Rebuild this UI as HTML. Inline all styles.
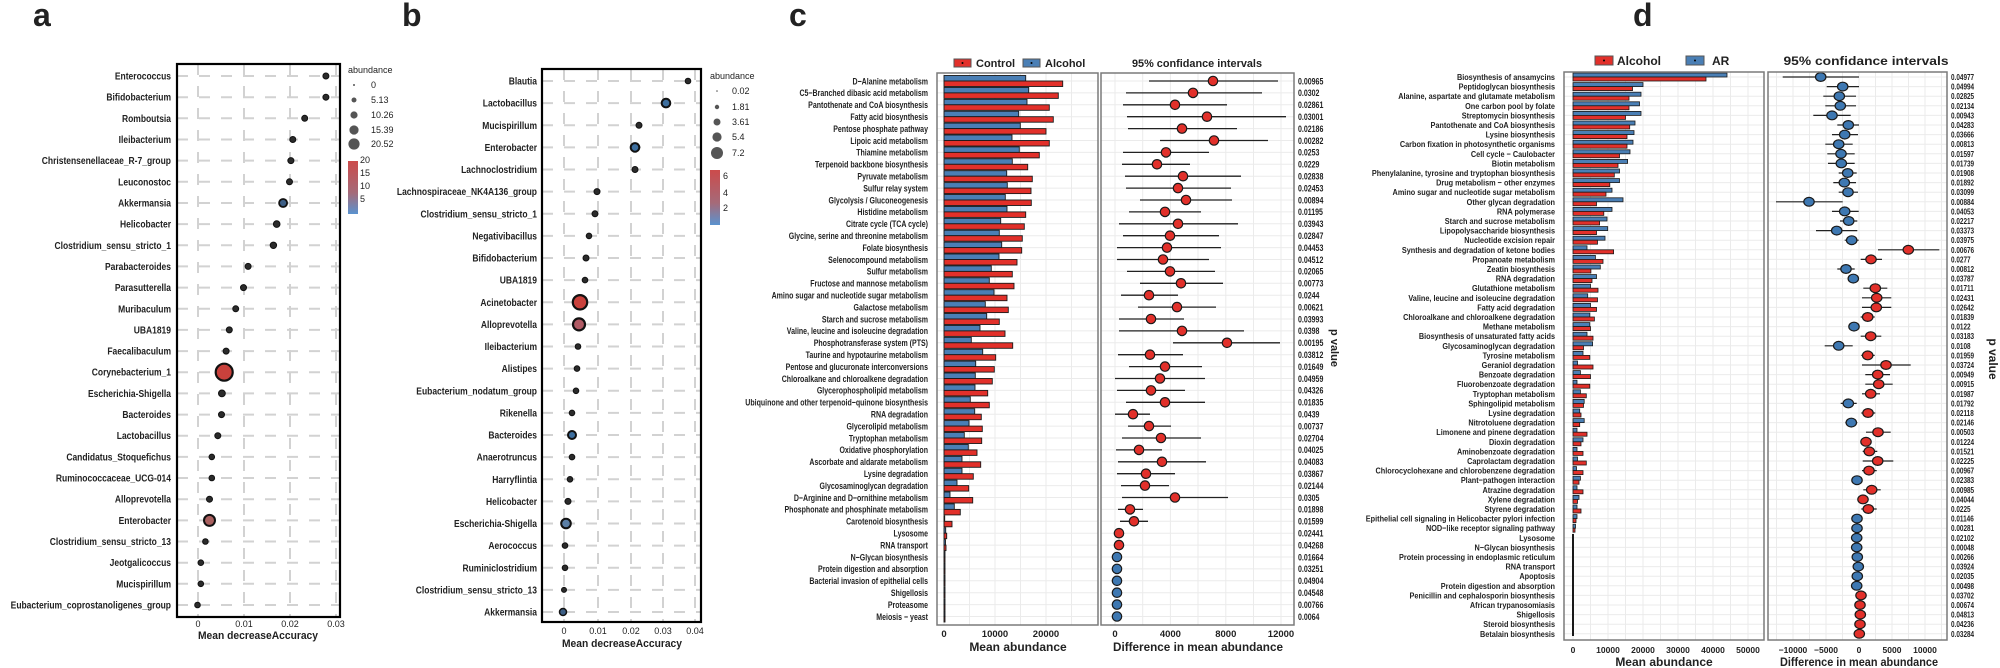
<!DOCTYPE html>
<html><head><meta charset="utf-8"><style>
html,body{margin:0;padding:0;background:#fff}
svg{display:block}
text{font-family:"Liberation Sans",Arial,sans-serif;fill:#222}
.lb{font-weight:bold}
</style></head><body>
<svg width="2000" height="668" viewBox="0 0 2000 668" xmlns="http://www.w3.org/2000/svg">
<!-- panel letters -->
<text x="33" y="26" font-size="32" font-weight="bold" fill="#000">a</text>
<text x="402" y="26" font-size="32" font-weight="bold" fill="#000">b</text>
<text x="789" y="26" font-size="32" font-weight="bold" fill="#000">c</text>
<text x="1633" y="26" font-size="32" font-weight="bold" fill="#000">d</text>

<!-- ================= PANEL A ================= -->
<g stroke="#d2d2d2" stroke-width="2" stroke-dasharray="11,11">
<line x1="177" y1="76" x2="340" y2="76"/><line x1="177" y1="97.2" x2="340" y2="97.2"/><line x1="177" y1="118.3" x2="340" y2="118.3"/><line x1="177" y1="139.5" x2="340" y2="139.5"/><line x1="177" y1="160.6" x2="340" y2="160.6"/><line x1="177" y1="181.8" x2="340" y2="181.8"/><line x1="177" y1="203" x2="340" y2="203"/><line x1="177" y1="224.1" x2="340" y2="224.1"/><line x1="177" y1="245.3" x2="340" y2="245.3"/><line x1="177" y1="266.4" x2="340" y2="266.4"/><line x1="177" y1="287.6" x2="340" y2="287.6"/><line x1="177" y1="308.8" x2="340" y2="308.8"/><line x1="177" y1="329.9" x2="340" y2="329.9"/><line x1="177" y1="351.1" x2="340" y2="351.1"/><line x1="177" y1="372.2" x2="340" y2="372.2"/><line x1="177" y1="393.4" x2="340" y2="393.4"/><line x1="177" y1="414.6" x2="340" y2="414.6"/><line x1="177" y1="435.7" x2="340" y2="435.7"/><line x1="177" y1="456.9" x2="340" y2="456.9"/><line x1="177" y1="478" x2="340" y2="478"/><line x1="177" y1="499.2" x2="340" y2="499.2"/><line x1="177" y1="520.4" x2="340" y2="520.4"/><line x1="177" y1="541.5" x2="340" y2="541.5"/><line x1="177" y1="562.7" x2="340" y2="562.7"/><line x1="177" y1="583.8" x2="340" y2="583.8"/><line x1="177" y1="605" x2="340" y2="605"/>
<line x1="198" y1="64" x2="198" y2="617"/><line x1="244" y1="64" x2="244" y2="617"/><line x1="290" y1="64" x2="290" y2="617"/><line x1="336" y1="64" x2="336" y2="617"/>
</g>
<rect x="177" y="64" width="163" height="553" fill="none" stroke="#000" stroke-width="2.2"/>
<g stroke="#111" stroke-width="1" fill="#2b2b2b">
<circle cx="325.9" cy="76" r="3"/><circle cx="325.9" cy="97.2" r="3"/><circle cx="304.7" cy="118.3" r="3"/><circle cx="292.8" cy="139.5" r="3"/><circle cx="290.9" cy="160.6" r="3"/><circle cx="289.5" cy="181.8" r="3"/>
<circle cx="283.1" cy="203" r="4" fill="#3d5f86" stroke-width="1.8"/><circle cx="276.7" cy="224.1" r="3.3"/><circle cx="273.4" cy="245.3" r="3.2"/><circle cx="248.1" cy="266.4" r="3"/><circle cx="243.5" cy="287.6" r="3"/><circle cx="235.7" cy="308.8" r="3"/><circle cx="229.3" cy="329.9" r="3"/><circle cx="226.1" cy="351.1" r="3"/>
<circle cx="224.2" cy="372.2" r="8.5" fill="#c9413c" stroke-width="2.2"/><circle cx="221.9" cy="393.4" r="3.4"/><circle cx="221.5" cy="414.6" r="3"/><circle cx="217.8" cy="435.7" r="3"/><circle cx="211.8" cy="456.9" r="2.8"/><circle cx="211.8" cy="478" r="2.8"/><circle cx="209.5" cy="499.2" r="3"/>
<circle cx="209.5" cy="520.4" r="5.5" fill="#a9605f" stroke-width="2"/><circle cx="205.4" cy="541.5" r="2.8"/><circle cx="200.8" cy="562.7" r="2.8"/><circle cx="200.8" cy="583.8" r="2.8"/><circle cx="197.5" cy="605" r="2.8"/>
</g>
<g transform="translate(171,0) scale(0.85,1)" font-size="10" font-weight="bold" text-anchor="end">
<text x="0" y="79.5">Enterococcus</text><text x="0" y="100.7">Bifidobacterium</text><text x="0" y="121.8">Romboutsia</text><text x="0" y="143">Ileibacterium</text><text x="0" y="164.1">Christensenellaceae_R-7_group</text><text x="0" y="185.3">Leuconostoc</text><text x="0" y="206.5">Akkermansia</text><text x="0" y="227.6">Helicobacter</text><text x="0" y="248.8">Clostridium_sensu_stricto_1</text><text x="0" y="269.9">Parabacteroides</text><text x="0" y="291.1">Parasutterella</text><text x="0" y="312.3">Muribaculum</text><text x="0" y="333.4">UBA1819</text><text x="0" y="354.6">Faecalibaculum</text><text x="0" y="375.7">Corynebacterium_1</text><text x="0" y="396.9">Escherichia-Shigella</text><text x="0" y="418.1">Bacteroides</text><text x="0" y="439.2">Lactobacillus</text><text x="0" y="460.4">Candidatus_Stoquefichus</text><text x="0" y="481.5">Ruminococcaceae_UCG-014</text><text x="0" y="502.7">Alloprevotella</text><text x="0" y="523.9">Enterobacter</text><text x="0" y="545">Clostridium_sensu_stricto_13</text><text x="0" y="566.2">Jeotgalicoccus</text><text x="0" y="587.3">Mucispirillum</text><text x="0" y="608.5">Eubacterium_coprostanoligenes_group</text>
</g>
<g font-size="9" text-anchor="middle" fill="#333"><text x="198" y="627">0</text><text x="244" y="627">0.01</text><text x="290" y="627">0.02</text><text x="336" y="627">0.03</text></g>
<text x="258" y="639" font-size="11" font-weight="bold" text-anchor="middle" textLength="120" lengthAdjust="spacingAndGlyphs">Mean decreaseAccuracy</text>
<!-- legend a -->
<text x="348" y="73" font-size="9" fill="#333">abundance</text>
<g fill="#555"><circle cx="354" cy="85" r="1"/><circle cx="354" cy="100" r="2.5"/><circle cx="354" cy="115" r="3.6"/><circle cx="354" cy="130" r="4.6"/><circle cx="354" cy="144" r="5.6"/></g>
<g font-size="9" fill="#333"><text x="371" y="88">0</text><text x="371" y="103">5.13</text><text x="371" y="118">10.26</text><text x="371" y="133">15.39</text><text x="371" y="147">20.52</text></g>
<defs>
<linearGradient id="gA" x1="0" y1="0" x2="0" y2="1"><stop offset="0" stop-color="#cc4b4b"/><stop offset="0.6" stop-color="#a56a79"/><stop offset="1" stop-color="#5a93cf"/></linearGradient>
</defs>
<rect x="348" y="161" width="10" height="53" fill="url(#gA)"/>
<g font-size="9" fill="#333"><text x="360" y="163">20</text><text x="360" y="176">15</text><text x="360" y="189">10</text><text x="360" y="202">5</text></g>

<!-- ================= PANEL B ================= -->
<g stroke="#d2d2d2" stroke-width="2" stroke-dasharray="11,11">
<line x1="542" y1="81" x2="701" y2="81"/><line x1="542" y1="103.1" x2="701" y2="103.1"/><line x1="542" y1="125.3" x2="701" y2="125.3"/><line x1="542" y1="147.4" x2="701" y2="147.4"/><line x1="542" y1="169.5" x2="701" y2="169.5"/><line x1="542" y1="191.6" x2="701" y2="191.6"/><line x1="542" y1="213.8" x2="701" y2="213.8"/><line x1="542" y1="235.9" x2="701" y2="235.9"/><line x1="542" y1="258" x2="701" y2="258"/><line x1="542" y1="280.1" x2="701" y2="280.1"/><line x1="542" y1="302.3" x2="701" y2="302.3"/><line x1="542" y1="324.4" x2="701" y2="324.4"/><line x1="542" y1="346.5" x2="701" y2="346.5"/><line x1="542" y1="368.6" x2="701" y2="368.6"/><line x1="542" y1="390.8" x2="701" y2="390.8"/><line x1="542" y1="412.9" x2="701" y2="412.9"/><line x1="542" y1="435" x2="701" y2="435"/><line x1="542" y1="457.1" x2="701" y2="457.1"/><line x1="542" y1="479.3" x2="701" y2="479.3"/><line x1="542" y1="501.4" x2="701" y2="501.4"/><line x1="542" y1="523.5" x2="701" y2="523.5"/><line x1="542" y1="545.6" x2="701" y2="545.6"/><line x1="542" y1="567.8" x2="701" y2="567.8"/><line x1="542" y1="589.9" x2="701" y2="589.9"/><line x1="542" y1="612" x2="701" y2="612"/>
<line x1="564" y1="69" x2="564" y2="622"/><line x1="598" y1="69" x2="598" y2="622"/><line x1="631" y1="69" x2="631" y2="622"/><line x1="663" y1="69" x2="663" y2="622"/><line x1="695" y1="69" x2="695" y2="622"/>
</g>
<rect x="542" y="69" width="159" height="553" fill="none" stroke="#000" stroke-width="2.2"/>
<g stroke="#111" stroke-width="1" fill="#2b2b2b">
<circle cx="688" cy="81" r="2.8"/><circle cx="666" cy="103.1" r="4.3" fill="#3d6f9f" stroke-width="2"/><circle cx="639" cy="125.3" r="3"/><circle cx="635" cy="147.4" r="4.3" fill="#3d6f9f" stroke-width="2"/><circle cx="635" cy="169.5" r="3"/><circle cx="597" cy="191.6" r="3"/><circle cx="595" cy="213.8" r="3"/><circle cx="589" cy="235.9" r="2.8"/><circle cx="586" cy="258" r="3"/><circle cx="585" cy="280.1" r="2.8"/>
<circle cx="580" cy="302.3" r="7.2" fill="#c9413c" stroke-width="2.2"/><circle cx="579" cy="324.4" r="6" fill="#b05a64" stroke-width="2.2"/><circle cx="578" cy="346.5" r="2.8"/><circle cx="577" cy="368.6" r="2.8"/><circle cx="576" cy="390.8" r="2.8"/><circle cx="572" cy="412.9" r="2.8"/><circle cx="572" cy="435" r="4" fill="#3d6f9f" stroke-width="2"/><circle cx="572" cy="457.1" r="2.8"/><circle cx="570" cy="479.3" r="2.8"/><circle cx="568" cy="501.4" r="3"/><circle cx="566" cy="523.5" r="4.8" fill="#5b7fa6" stroke-width="2"/><circle cx="565" cy="545.6" r="2.8"/><circle cx="565" cy="567.8" r="2.8"/><circle cx="564" cy="589.9" r="2.5"/><circle cx="563" cy="612" r="3.5" fill="#3d5f86" stroke-width="1.5"/>
</g>
<g transform="translate(537,0) scale(0.85,1)" font-size="10" font-weight="bold" text-anchor="end">
<text x="0" y="84.5">Blautia</text><text x="0" y="106.6">Lactobacillus</text><text x="0" y="128.8">Mucispirillum</text><text x="0" y="150.9">Enterobacter</text><text x="0" y="173">Lachnoclostridium</text><text x="0" y="195.1">Lachnospiraceae_NK4A136_group</text><text x="0" y="217.3">Clostridium_sensu_stricto_1</text><text x="0" y="239.4">Negativibacillus</text><text x="0" y="261.5">Bifidobacterium</text><text x="0" y="283.6">UBA1819</text><text x="0" y="305.8">Acinetobacter</text><text x="0" y="327.9">Alloprevotella</text><text x="0" y="350">Ileibacterium</text><text x="0" y="372.1">Alistipes</text><text x="0" y="394.3">Eubacterium_nodatum_group</text><text x="0" y="416.4">Rikenella</text><text x="0" y="438.5">Bacteroides</text><text x="0" y="460.6">Anaerotruncus</text><text x="0" y="482.8">Harryflintia</text><text x="0" y="504.9">Helicobacter</text><text x="0" y="527">Escherichia-Shigella</text><text x="0" y="549.1">Aerococcus</text><text x="0" y="571.3">Ruminiclostridium</text><text x="0" y="593.4">Clostridium_sensu_stricto_13</text><text x="0" y="615.5">Akkermansia</text>
</g>
<g font-size="9" text-anchor="middle" fill="#333"><text x="564" y="634">0</text><text x="598" y="634">0.01</text><text x="631" y="634">0.02</text><text x="663" y="634">0.03</text><text x="695" y="634">0.04</text></g>
<text x="622" y="647" font-size="11" font-weight="bold" text-anchor="middle" textLength="120" lengthAdjust="spacingAndGlyphs">Mean decreaseAccuracy</text>
<!-- legend b -->
<text x="710" y="79" font-size="9" fill="#333">abundance</text>
<g fill="#555"><circle cx="717" cy="91" r="0.8"/><circle cx="717" cy="107" r="2.2"/><circle cx="717" cy="122" r="3.5"/><circle cx="717" cy="137" r="4.6"/><circle cx="717" cy="153" r="6"/></g>
<g font-size="9" fill="#333"><text x="732" y="94">0.02</text><text x="732" y="110">1.81</text><text x="732" y="125">3.61</text><text x="732" y="140">5.4</text><text x="732" y="156">7.2</text></g>
<rect x="710" y="170" width="10" height="55" fill="url(#gA)"/>
<g font-size="9" fill="#333"><text x="723" y="179">6</text><text x="723" y="196">4</text><text x="723" y="211">2</text></g>

<!-- ================= PANEL C ================= -->
<!-- legend -->
<rect x="954" y="59" width="17" height="8" fill="#e2302a" stroke="#555" stroke-width="1"/><circle cx="962.5" cy="63" r="1" fill="#000"/>
<text x="976" y="67" font-size="11" font-weight="bold">Control</text>
<rect x="1023" y="59" width="17" height="8" fill="#4a7fb5" stroke="#555" stroke-width="1"/><circle cx="1031.5" cy="63" r="1" fill="#000"/>
<text x="1045" y="67" font-size="11" font-weight="bold">Alcohol</text>
<text x="1197" y="67" font-size="11" font-weight="bold" text-anchor="middle" textLength="130" lengthAdjust="spacingAndGlyphs">95% confidance intervals</text>
<!-- bar panel grid -->
<g stroke="#ebebeb" stroke-width="1">
<line x1="944" y1="73" x2="944" y2="625"/><line x1="969.5" y1="73" x2="969.5" y2="625"/><line x1="995" y1="73" x2="995" y2="625"/><line x1="1020.5" y1="73" x2="1020.5" y2="625"/><line x1="1046" y1="73" x2="1046" y2="625"/><line x1="1071.5" y1="73" x2="1071.5" y2="625"/>
<line x1="1115" y1="73" x2="1115" y2="625"/><line x1="1142.7" y1="73" x2="1142.7" y2="625"/><line x1="1170.4" y1="73" x2="1170.4" y2="625"/><line x1="1198" y1="73" x2="1198" y2="625"/><line x1="1225.8" y1="73" x2="1225.8" y2="625"/><line x1="1253.5" y1="73" x2="1253.5" y2="625"/><line x1="1281" y1="73" x2="1281" y2="625"/>
</g>
<g id="crows" stroke="#ebebeb" stroke-width="1">
<path d="M937 81H1098M937 92.9H1098M937 104.8H1098M937 116.7H1098M937 128.6H1098M937 140.5H1098M937 152.4H1098M937 164.3H1098M937 176.2H1098M937 188.1H1098M937 200H1098M937 211.9H1098M937 223.8H1098M937 235.7H1098M937 247.6H1098M937 259.5H1098M937 271.4H1098M937 283.3H1098M937 295.2H1098M937 307.1H1098M937 319H1098M937 330.9H1098M937 342.8H1098M937 354.7H1098M937 366.6H1098M937 378.5H1098M937 390.4H1098M937 402.3H1098M937 414.2H1098M937 426.1H1098M937 438H1098M937 449.9H1098M937 461.8H1098M937 473.7H1098M937 485.6H1098M937 497.5H1098M937 509.4H1098M937 521.3H1098M937 533.2H1098M937 545.1H1098M937 557H1098M937 568.9H1098M937 580.8H1098M937 592.7H1098M937 604.6H1098M937 616.5H1098"/>
<path transform="translate(164,0)" d="M937 81H1130M937 92.9H1130M937 104.8H1130M937 116.7H1130M937 128.6H1130M937 140.5H1130M937 152.4H1130M937 164.3H1130M937 176.2H1130M937 188.1H1130M937 200H1130M937 211.9H1130M937 223.8H1130M937 235.7H1130M937 247.6H1130M937 259.5H1130M937 271.4H1130M937 283.3H1130M937 295.2H1130M937 307.1H1130M937 319H1130M937 330.9H1130M937 342.8H1130M937 354.7H1130M937 366.6H1130M937 378.5H1130M937 390.4H1130M937 402.3H1130M937 414.2H1130M937 426.1H1130M937 438H1130M937 449.9H1130M937 461.8H1130M937 473.7H1130M937 485.6H1130M937 497.5H1130M937 509.4H1130M937 521.3H1130M937 533.2H1130M937 545.1H1130M937 557H1130M937 568.9H1130M937 580.8H1130M937 592.7H1130M937 604.6H1130M937 616.5H1130"/>
</g>
<!-- bars c: blue top, red bottom -->
<g stroke="#1a1a1a" stroke-width="0.9">
<g fill="#4a7fb5">
<rect x="944" y="75.5" width="81.7" height="5.5"/><rect x="944" y="87.4" width="84.7" height="5.5"/><rect x="944" y="99.3" width="83" height="5.5"/><rect x="944" y="111.2" width="74.7" height="5.5"/><rect x="944" y="123.1" width="76.3" height="5.5"/><rect x="944" y="135" width="68" height="5.5"/><rect x="944" y="146.9" width="75.3" height="5.5"/><rect x="944" y="158.8" width="68.3" height="5.5"/><rect x="944" y="170.7" width="62.7" height="5.5"/><rect x="944" y="182.6" width="63.3" height="5.5"/><rect x="944" y="194.5" width="61.3" height="5.5"/><rect x="944" y="206.4" width="63" height="5.5"/><rect x="944" y="218.3" width="56.7" height="5.5"/><rect x="944" y="230.2" width="55.3" height="5.5"/><rect x="944" y="242.1" width="57.7" height="5.5"/><rect x="944" y="254" width="55" height="5.5"/><rect x="944" y="265.9" width="47.3" height="5.5"/><rect x="944" y="277.8" width="45.3" height="5.5"/><rect x="944" y="289.7" width="50" height="5.5"/><rect x="944" y="301.6" width="41.3" height="5.5"/><rect x="944" y="313.5" width="42.7" height="5.5"/><rect x="944" y="325.4" width="36" height="5.5"/><rect x="944" y="337.3" width="27.3" height="5.5"/><rect x="944" y="349.2" width="38.7" height="5.5"/><rect x="944" y="361.1" width="31.7" height="5.5"/><rect x="944" y="373" width="31.3" height="5.5"/><rect x="944" y="384.9" width="31" height="5.5"/><rect x="944" y="396.8" width="26.3" height="5.5"/><rect x="944" y="408.7" width="30.7" height="5.5"/><rect x="944" y="420.6" width="25" height="5.5"/><rect x="944" y="432.5" width="20.3" height="5.5"/><rect x="944" y="444.4" width="24.3" height="5.5"/><rect x="944" y="456.3" width="18" height="5.5"/><rect x="944" y="468.2" width="18" height="5.5"/><rect x="944" y="480.1" width="13" height="5.5"/><rect x="944" y="492" width="6" height="5.5"/><rect x="944" y="503.9" width="10.3" height="5.5"/><rect x="944" y="515.8" width="0.7" height="5.5"/><rect x="944" y="527.7" width="1.7" height="5.5"/><rect x="944" y="539.6" width="1.5" height="5.5"/><rect x="944" y="551.5" width="1" height="5.5"/><rect x="944" y="563.4" width="1" height="5.5"/><rect x="944" y="575.3" width="1" height="5.5"/><rect x="944" y="587.2" width="1" height="5.5"/><rect x="944" y="599.1" width="1" height="5.5"/><rect x="944" y="611" width="1" height="5.5"/>
</g>
<g fill="#e2302a">
<rect x="944" y="81" width="118.7" height="5.5"/><rect x="944" y="92.9" width="114.3" height="5.5"/><rect x="944" y="104.8" width="105.3" height="5.5"/><rect x="944" y="116.7" width="109.3" height="5.5"/><rect x="944" y="128.6" width="102" height="5.5"/><rect x="944" y="140.5" width="105.3" height="5.5"/><rect x="944" y="152.4" width="95.3" height="5.5"/><rect x="944" y="164.3" width="83.7" height="5.5"/><rect x="944" y="176.2" width="88.3" height="5.5"/><rect x="944" y="188.1" width="87" height="5.5"/><rect x="944" y="200" width="87.3" height="5.5"/><rect x="944" y="211.9" width="81.7" height="5.5"/><rect x="944" y="223.8" width="80.3" height="5.5"/><rect x="944" y="235.7" width="78.3" height="5.5"/><rect x="944" y="247.6" width="77.7" height="5.5"/><rect x="944" y="259.5" width="73" height="5.5"/><rect x="944" y="271.4" width="68.3" height="5.5"/><rect x="944" y="283.3" width="70" height="5.5"/><rect x="944" y="295.2" width="63" height="5.5"/><rect x="944" y="307.1" width="64.3" height="5.5"/><rect x="944" y="319" width="55.3" height="5.5"/><rect x="944" y="330.9" width="61" height="5.5"/><rect x="944" y="342.8" width="68.7" height="5.5"/><rect x="944" y="354.7" width="51.7" height="5.5"/><rect x="944" y="366.6" width="50.3" height="5.5"/><rect x="944" y="378.5" width="48.3" height="5.5"/><rect x="944" y="390.4" width="43.7" height="5.5"/><rect x="944" y="402.3" width="45.3" height="5.5"/><rect x="944" y="414.2" width="37.3" height="5.5"/><rect x="944" y="426.1" width="38.3" height="5.5"/><rect x="944" y="438" width="37.7" height="5.5"/><rect x="944" y="449.9" width="33" height="5.5"/><rect x="944" y="461.8" width="36.7" height="5.5"/><rect x="944" y="473.7" width="29.3" height="5.5"/><rect x="944" y="485.6" width="24.7" height="5.5"/><rect x="944" y="497.5" width="28.7" height="5.5"/><rect x="944" y="509.4" width="16.3" height="5.5"/><rect x="944" y="521.3" width="8" height="5.5"/><rect x="944" y="533.2" width="2.7" height="5.5"/><rect x="944" y="545.1" width="2" height="5.5"/><rect x="944" y="557" width="1" height="5.5"/><rect x="944" y="568.9" width="1" height="5.5"/><rect x="944" y="580.8" width="1" height="5.5"/><rect x="944" y="592.7" width="1" height="5.5"/><rect x="944" y="604.6" width="1" height="5.5"/><rect x="944" y="616.5" width="1" height="5.5"/>
</g>
</g>
<rect x="937" y="73" width="161" height="552" fill="none" stroke="#7a7a7a" stroke-width="1.5"/>
<!-- CI c -->
<g stroke="#222" stroke-width="1.3">
<path d="M1149 81H1278M1126 92.9H1262M1123 104.8H1227M1127 116.7H1286M1128 128.6H1237M1160 140.5H1268M1123 152.4H1209M1122 164.3H1190M1125 176.2H1241M1126 188.1H1231M1140 200H1232M1129 211.9H1201M1119 223.8H1238M1123 235.7H1219M1117 247.6H1221M1117 259.5H1209M1127 271.4H1215M1140 283.3H1223M1121 295.2H1178M1138 307.1H1216M1119 319H1184M1119 330.9H1244M1173 342.8H1280M1118 354.7H1183M1129 366.6H1202M1115 378.5H1205M1117 390.4H1185M1126 402.3H1205M1115 414.2H1150M1128 426.1H1171M1122 438H1201M1116 449.9H1162M1118 461.8H1206M1117 473.7H1175M1121 485.6H1169M1122 497.5H1228M1118 509.4H1143M1120 521.3H1148M1114 533.2H1124M1114 545.1H1124"/>
</g>
<g stroke="#1a1a1a" stroke-width="1.2" fill="#e2302a">
<circle cx="1213" cy="81" r="4.7"/><circle cx="1193" cy="92.9" r="4.7"/><circle cx="1175" cy="104.8" r="4.7"/><circle cx="1207" cy="116.7" r="4.7"/><circle cx="1182" cy="128.6" r="4.7"/><circle cx="1214" cy="140.5" r="4.7"/><circle cx="1166" cy="152.4" r="4.7"/><circle cx="1157" cy="164.3" r="4.7"/><circle cx="1183" cy="176.2" r="4.7"/><circle cx="1178" cy="188.1" r="4.7"/><circle cx="1186" cy="200" r="4.7"/><circle cx="1165" cy="211.9" r="4.7"/><circle cx="1178" cy="223.8" r="4.7"/><circle cx="1170" cy="235.7" r="4.7"/><circle cx="1167" cy="247.6" r="4.7"/><circle cx="1163" cy="259.5" r="4.7"/><circle cx="1170" cy="271.4" r="4.7"/><circle cx="1181" cy="283.3" r="4.7"/><circle cx="1149" cy="295.2" r="4.7"/><circle cx="1177" cy="307.1" r="4.7"/><circle cx="1151" cy="319" r="4.7"/><circle cx="1182" cy="330.9" r="4.7"/><circle cx="1227" cy="342.8" r="4.7"/><circle cx="1150" cy="354.7" r="4.7"/><circle cx="1165" cy="366.6" r="4.7"/><circle cx="1160" cy="378.5" r="4.7"/><circle cx="1151" cy="390.4" r="4.7"/><circle cx="1165" cy="402.3" r="4.7"/><circle cx="1133" cy="414.2" r="4.7"/><circle cx="1149" cy="426.1" r="4.7"/><circle cx="1161" cy="438" r="4.7"/><circle cx="1139" cy="449.9" r="4.7"/><circle cx="1162" cy="461.8" r="4.7"/><circle cx="1146" cy="473.7" r="4.7"/><circle cx="1145" cy="485.6" r="4.7"/><circle cx="1175" cy="497.5" r="4.7"/><circle cx="1130" cy="509.4" r="4.7"/><circle cx="1134" cy="521.3" r="4.7"/><circle cx="1119" cy="533.2" r="4.7"/><circle cx="1119" cy="545.1" r="4.7"/>
</g>
<g stroke="#1a1a1a" stroke-width="1.2" fill="#3e78b2">
<circle cx="1117" cy="557" r="4.7"/><circle cx="1117" cy="568.9" r="4.7"/><circle cx="1117" cy="580.8" r="4.7"/><circle cx="1117" cy="592.7" r="4.7"/><circle cx="1117" cy="604.6" r="4.7"/><circle cx="1117" cy="616.5" r="4.7"/>
</g>
<rect x="1101" y="73" width="193" height="552" fill="none" stroke="#7a7a7a" stroke-width="1.5"/>
<!-- labels c -->
<g transform="translate(928,0) scale(0.74,1)" font-size="9.5" font-weight="bold" text-anchor="end">
<text x="0" y="84.3">D−Alanine metabolism</text><text x="0" y="96.2">C5−Branched dibasic acid metabolism</text><text x="0" y="108.1">Pantothenate and CoA biosynthesis</text><text x="0" y="120">Fatty acid biosynthesis</text><text x="0" y="131.9">Pentose phosphate pathway</text><text x="0" y="143.8">Lipoic acid metabolism</text><text x="0" y="155.7">Thiamine metabolism</text><text x="0" y="167.6">Terpenoid backbone biosynthesis</text><text x="0" y="179.5">Pyruvate metabolism</text><text x="0" y="191.4">Sulfur relay system</text><text x="0" y="203.3">Glycolysis / Gluconeogenesis</text><text x="0" y="215.2">Histidine metabolism</text><text x="0" y="227.1">Citrate cycle (TCA cycle)</text><text x="0" y="239">Glycine, serine and threonine metabolism</text><text x="0" y="250.9">Folate biosynthesis</text><text x="0" y="262.8">Selenocompound metabolism</text><text x="0" y="274.7">Sulfur metabolism</text><text x="0" y="286.6">Fructose and mannose metabolism</text><text x="0" y="298.5">Amino sugar and nucleotide sugar metabolism</text><text x="0" y="310.4">Galactose metabolism</text><text x="0" y="322.3">Starch and sucrose metabolism</text><text x="0" y="334.2">Valine, leucine and isoleucine degradation</text><text x="0" y="346.1">Phosphotransferase system (PTS)</text><text x="0" y="358">Taurine and hypotaurine metabolism</text><text x="0" y="369.9">Pentose and glucuronate interconversions</text><text x="0" y="381.8">Chloroalkane and chloroalkene degradation</text><text x="0" y="393.7">Glycerophospholipid metabolism</text><text x="0" y="405.6">Ubiquinone and other terpenoid−quinone biosynthesis</text><text x="0" y="417.5">RNA degradation</text><text x="0" y="429.4">Glycerolipid metabolism</text><text x="0" y="441.3">Tryptophan metabolism</text><text x="0" y="453.2">Oxidative phosphorylation</text><text x="0" y="465.1">Ascorbate and aldarate metabolism</text><text x="0" y="477">Lysine degradation</text><text x="0" y="488.9">Glycosaminoglycan degradation</text><text x="0" y="500.8">D−Arginine and D−ornithine metabolism</text><text x="0" y="512.7">Phosphonate and phosphinate metabolism</text><text x="0" y="524.6">Carotenoid biosynthesis</text><text x="0" y="536.5">Lysosome</text><text x="0" y="548.4">RNA transport</text><text x="0" y="560.3">N−Glycan biosynthesis</text><text x="0" y="572.2">Protein digestion and absorption</text><text x="0" y="584.1">Bacterial invasion of epithelial cells</text><text x="0" y="596">Shigellosis</text><text x="0" y="607.9">Proteasome</text><text x="0" y="619.8">Meiosis − yeast</text>
</g>
<!-- p values c -->
<g transform="translate(1298,0) scale(0.78,1)" font-size="9" font-weight="bold">
<text x="0" y="84.3">0.00965</text><text x="0" y="96.2">0.0302</text><text x="0" y="108.1">0.02861</text><text x="0" y="120">0.03001</text><text x="0" y="131.9">0.02186</text><text x="0" y="143.8">0.00282</text><text x="0" y="155.7">0.0253</text><text x="0" y="167.6">0.0229</text><text x="0" y="179.5">0.02838</text><text x="0" y="191.4">0.02453</text><text x="0" y="203.3">0.00894</text><text x="0" y="215.2">0.01195</text><text x="0" y="227.1">0.03943</text><text x="0" y="239">0.02847</text><text x="0" y="250.9">0.04453</text><text x="0" y="262.8">0.04512</text><text x="0" y="274.7">0.02065</text><text x="0" y="286.6">0.00773</text><text x="0" y="298.5">0.0244</text><text x="0" y="310.4">0.00621</text><text x="0" y="322.3">0.03993</text><text x="0" y="334.2">0.0398</text><text x="0" y="346.1">0.00195</text><text x="0" y="358">0.03812</text><text x="0" y="369.9">0.01649</text><text x="0" y="381.8">0.04959</text><text x="0" y="393.7">0.04326</text><text x="0" y="405.6">0.01835</text><text x="0" y="417.5">0.0439</text><text x="0" y="429.4">0.00737</text><text x="0" y="441.3">0.02704</text><text x="0" y="453.2">0.04025</text><text x="0" y="465.1">0.04083</text><text x="0" y="477">0.03867</text><text x="0" y="488.9">0.02144</text><text x="0" y="500.8">0.0305</text><text x="0" y="512.7">0.01898</text><text x="0" y="524.6">0.01599</text><text x="0" y="536.5">0.02441</text><text x="0" y="548.4">0.04268</text><text x="0" y="560.3">0.01664</text><text x="0" y="572.2">0.03251</text><text x="0" y="584.1">0.04904</text><text x="0" y="596">0.04548</text><text x="0" y="607.9">0.00766</text><text x="0" y="619.8">0.0064</text>
</g>
<text transform="translate(1331,348) rotate(90)" font-size="11" font-weight="bold" text-anchor="middle">p value</text>
<g font-size="9.5" font-weight="bold" text-anchor="middle"><text x="944" y="637">0</text><text x="995" y="637">10000</text><text x="1046" y="637">20000</text>
<text x="1115" y="637">0</text><text x="1170.4" y="637">4000</text><text x="1225.8" y="637">8000</text><text x="1281" y="637">12000</text></g>
<text x="1018" y="651" font-size="12" font-weight="bold" text-anchor="middle">Mean abundance</text>
<text x="1198" y="651" font-size="12" font-weight="bold" text-anchor="middle" textLength="170" lengthAdjust="spacingAndGlyphs">Difference in mean abundance</text>

<!-- ================= PANEL D ================= -->
<rect x="1595" y="56" width="18" height="9" fill="#e2302a" stroke="#555" stroke-width="1"/><circle cx="1604" cy="60.5" r="1" fill="#000"/>
<text x="1617" y="65" font-size="12" font-weight="bold">Alcohol</text>
<rect x="1686" y="56" width="18" height="9" fill="#4a7fb5" stroke="#555" stroke-width="1"/><circle cx="1695" cy="60.5" r="1" fill="#000"/>
<text x="1712" y="65" font-size="12" font-weight="bold">AR</text>
<text x="1866" y="65" font-size="12" font-weight="bold" text-anchor="middle" textLength="165" lengthAdjust="spacingAndGlyphs">95% confidance intervals</text>
<g stroke="#ebebeb" stroke-width="1">
<path d="M1573 72V640M1590.5 72V640M1608 72V640M1625.5 72V640M1643 72V640M1660.5 72V640M1678 72V640M1695.5 72V640M1713 72V640M1730.5 72V640M1748 72V640"/>
<path d="M1776.5 72V640M1793 72V640M1809.5 72V640M1826 72V640M1842.5 72V640M1859 72V640M1875.5 72V640M1892 72V640M1908.5 72V640M1925 72V640M1941.5 72V640"/>
<path id="drow" d="M0 77h1M0 86.6h1M0 96.2h1M0 105.8h1M0 115.4h1M0 125h1M0 134.6h1M0 144.2h1M0 153.8h1M0 163.4h1M0 173h1M0 182.6h1M0 192.2h1M0 201.8h1M0 211.4h1M0 221h1M0 230.6h1M0 240.2h1M0 249.8h1M0 259.4h1M0 269h1M0 278.6h1M0 288.2h1M0 297.8h1M0 307.4h1M0 317h1M0 326.6h1M0 336.2h1M0 345.8h1M0 355.4h1M0 365h1M0 374.6h1M0 384.2h1M0 393.8h1M0 403.4h1M0 413h1M0 422.6h1M0 432.2h1M0 441.8h1M0 451.4h1M0 461h1M0 470.6h1M0 480.2h1M0 489.8h1M0 499.4h1M0 509h1M0 518.6h1M0 528.2h1M0 537.8h1M0 547.4h1M0 557h1M0 566.6h1M0 576.2h1M0 585.8h1M0 595.4h1M0 605h1M0 614.6h1M0 624.2h1M0 633.8h1" transform="translate(1564,0) scale(200,1)" stroke-width="1" vector-effect="non-scaling-stroke"/>
<path d="M0 77h1M0 86.6h1M0 96.2h1M0 105.8h1M0 115.4h1M0 125h1M0 134.6h1M0 144.2h1M0 153.8h1M0 163.4h1M0 173h1M0 182.6h1M0 192.2h1M0 201.8h1M0 211.4h1M0 221h1M0 230.6h1M0 240.2h1M0 249.8h1M0 259.4h1M0 269h1M0 278.6h1M0 288.2h1M0 297.8h1M0 307.4h1M0 317h1M0 326.6h1M0 336.2h1M0 345.8h1M0 355.4h1M0 365h1M0 374.6h1M0 384.2h1M0 393.8h1M0 403.4h1M0 413h1M0 422.6h1M0 432.2h1M0 441.8h1M0 451.4h1M0 461h1M0 470.6h1M0 480.2h1M0 489.8h1M0 499.4h1M0 509h1M0 518.6h1M0 528.2h1M0 537.8h1M0 547.4h1M0 557h1M0 566.6h1M0 576.2h1M0 585.8h1M0 595.4h1M0 605h1M0 614.6h1M0 624.2h1M0 633.8h1" transform="translate(1768,0) scale(179,1)" vector-effect="non-scaling-stroke"/>
</g>
<!-- d bars -->
<g stroke="#1a1a1a" stroke-width="0.8">
<g fill="#4a7fb5">
<rect x="1573" y="73" width="154" height="4"/><rect x="1573" y="82.6" width="70" height="4"/><rect x="1573" y="92.2" width="68" height="4"/><rect x="1573" y="101.8" width="66.5" height="4"/><rect x="1573" y="111.4" width="68" height="4"/><rect x="1573" y="121" width="62" height="4"/><rect x="1573" y="130.6" width="61" height="4"/><rect x="1573" y="140.2" width="60" height="4"/><rect x="1573" y="149.8" width="57" height="4"/><rect x="1573" y="159.4" width="54.6" height="4"/><rect x="1573" y="169" width="46.5" height="4"/><rect x="1573" y="178.6" width="46.5" height="4"/><rect x="1573" y="188.2" width="39" height="4"/><rect x="1573" y="197.8" width="50" height="4"/><rect x="1573" y="207.4" width="39" height="4"/><rect x="1573" y="217" width="34" height="4"/><rect x="1573" y="226.6" width="34.7" height="4"/><rect x="1573" y="236.2" width="32" height="4"/><rect x="1573" y="245.8" width="14" height="4"/><rect x="1573" y="255.4" width="22.4" height="4"/><rect x="1573" y="265" width="27.3" height="4"/><rect x="1573" y="274.6" width="23.5" height="4"/><rect x="1573" y="284.2" width="17.5" height="4"/><rect x="1573" y="293.8" width="14.7" height="4"/><rect x="1573" y="303.4" width="17.5" height="4"/><rect x="1573" y="313" width="16.8" height="4"/><rect x="1573" y="322.6" width="16.8" height="4"/><rect x="1573" y="332.2" width="14" height="4"/><rect x="1573" y="341.8" width="19.6" height="4"/><rect x="1573" y="351.4" width="10" height="4"/><rect x="1573" y="361" width="4.5" height="4"/><rect x="1573" y="370.6" width="7.4" height="4"/><rect x="1573" y="380.2" width="4" height="4"/><rect x="1573" y="389.8" width="7.4" height="4"/><rect x="1573" y="399.4" width="11.2" height="4"/><rect x="1573" y="409" width="6.7" height="4"/><rect x="1573" y="418.6" width="11.2" height="4"/><rect x="1573" y="428.2" width="4" height="4"/><rect x="1573" y="437.8" width="10" height="4"/><rect x="1573" y="447.4" width="4" height="4"/><rect x="1573" y="457" width="4.5" height="4"/><rect x="1573" y="466.6" width="3.5" height="4"/><rect x="1573" y="476.2" width="7.4" height="4"/><rect x="1573" y="485.8" width="4" height="4"/><rect x="1573" y="495.4" width="6" height="4"/><rect x="1573" y="505" width="4" height="4"/><rect x="1573" y="514.6" width="4" height="4"/><rect x="1573" y="524.2" width="2.5" height="4"/>
</g>
<g fill="#e2302a">
<rect x="1573" y="77" width="133" height="4"/><rect x="1573" y="86.6" width="59.5" height="4"/><rect x="1573" y="96.2" width="56" height="4"/><rect x="1573" y="105.8" width="56" height="4"/><rect x="1573" y="115.4" width="52.5" height="4"/><rect x="1573" y="125" width="56.7" height="4"/><rect x="1573" y="134.6" width="54" height="4"/><rect x="1573" y="144.2" width="54" height="4"/><rect x="1573" y="153.8" width="46.5" height="4"/><rect x="1573" y="163.4" width="45" height="4"/><rect x="1573" y="173" width="41.3" height="4"/><rect x="1573" y="182.6" width="36.8" height="4"/><rect x="1573" y="192.2" width="33" height="4"/><rect x="1573" y="201.8" width="23.5" height="4"/><rect x="1573" y="211.4" width="30.8" height="4"/><rect x="1573" y="221" width="26.6" height="4"/><rect x="1573" y="230.6" width="23.5" height="4"/><rect x="1573" y="240.2" width="24.5" height="4"/><rect x="1573" y="249.8" width="40.6" height="4"/><rect x="1573" y="259.4" width="30" height="4"/><rect x="1573" y="269" width="17.9" height="4"/><rect x="1573" y="278.6" width="19" height="4"/><rect x="1573" y="288.2" width="25" height="4"/><rect x="1573" y="297.8" width="24.5" height="4"/><rect x="1573" y="307.4" width="23.5" height="4"/><rect x="1573" y="317" width="21.4" height="4"/><rect x="1573" y="326.6" width="17.5" height="4"/><rect x="1573" y="336.2" width="20" height="4"/><rect x="1573" y="345.8" width="10.5" height="4"/><rect x="1573" y="355.4" width="16.8" height="4"/><rect x="1573" y="365" width="20" height="4"/><rect x="1573" y="374.6" width="17.5" height="4"/><rect x="1573" y="384.2" width="16.8" height="4"/><rect x="1573" y="393.8" width="13.3" height="4"/><rect x="1573" y="403.4" width="10.5" height="4"/><rect x="1573" y="413" width="8" height="4"/><rect x="1573" y="422.6" width="6.7" height="4"/><rect x="1573" y="432.2" width="14" height="4"/><rect x="1573" y="441.8" width="8" height="4"/><rect x="1573" y="451.4" width="10" height="4"/><rect x="1573" y="461" width="13.3" height="4"/><rect x="1573" y="470.6" width="10" height="4"/><rect x="1573" y="480.2" width="6" height="4"/><rect x="1573" y="489.8" width="10" height="4"/><rect x="1573" y="499.4" width="4.5" height="4"/><rect x="1573" y="509" width="8" height="4"/><rect x="1573" y="518.6" width="3" height="4"/><rect x="1573" y="528.2" width="2" height="4"/>
</g>
<path d="M1573 534V636" stroke="#1a1a1a" stroke-width="2"/>
</g>
<rect x="1564" y="72" width="200" height="568" fill="none" stroke="#7a7a7a" stroke-width="1.5"/>
<!-- d CI whiskers -->
<g stroke="#222" stroke-width="1.2">
<path d="M1782.7 77H1859M1826.7 86.6H1859M1823.3 96.2H1856M1825.3 105.8H1856M1813.3 115.4H1850.7M1837.3 125H1859M1832 134.6H1858M1825.3 144.2H1852.7M1827.3 153.8H1854.7M1828 163.4H1854.7M1838.7 173H1856.7M1833.3 182.6H1856M1838.7 192.2H1858M1776 201.8H1842.7M1832 211.4H1858.7M1840 221H1857.3M1816 230.6H1857.3M1844.7 240.2H1858.7M1878 249.8H1939.3M1860.7 259.4H1882M1837.3 269H1854.7M1848.7 278.6H1858M1863.3 288.2H1887.3M1862 297.8H1891.3M1862 307.4H1891.3M1860.7 317H1874.7M1850 326.6H1858.7M1860.7 336.2H1881.3M1824.7 345.8H1852.7M1861.3 355.4H1874.7M1862 365H1910.7M1865.3 374.6H1890M1865.3 384.2H1892.7M1862 393.8H1880M1840.7 403.4H1856.7M1861.3 413H1875.3M1845.3 422.6H1857.3M1866 432.2H1890.7M1862 441.8H1870M1862.7 451.4H1877.3M1862.7 461H1893.3M1862 470.6H1876.7M1852.7 480.2H1861.3M1863.3 489.8H1880.7M1859.3 499.4H1866.7M1861.3 509H1876.7"/>
</g>
<g stroke="#1a1a1a" stroke-width="1.2" fill="#3e78b2">
<ellipse cx="1820.7" cy="77" rx="5.2" ry="4.4"/><ellipse cx="1842.7" cy="86.6" rx="5.2" ry="4.4"/><ellipse cx="1839.3" cy="96.2" rx="5.2" ry="4.4"/><ellipse cx="1840.3" cy="105.8" rx="5.2" ry="4.4"/><ellipse cx="1832" cy="115.4" rx="5.2" ry="4.4"/><ellipse cx="1848.3" cy="125" rx="5.2" ry="4.4"/><ellipse cx="1844.7" cy="134.6" rx="5.2" ry="4.4"/><ellipse cx="1838.7" cy="144.2" rx="5.2" ry="4.4"/><ellipse cx="1841" cy="153.8" rx="5.2" ry="4.4"/><ellipse cx="1841.3" cy="163.4" rx="5.2" ry="4.4"/><ellipse cx="1847.7" cy="173" rx="5.2" ry="4.4"/><ellipse cx="1844.3" cy="182.6" rx="5.2" ry="4.4"/><ellipse cx="1848" cy="192.2" rx="5.2" ry="4.4"/><ellipse cx="1809" cy="201.8" rx="5.2" ry="4.4"/><ellipse cx="1844.7" cy="211.4" rx="5.2" ry="4.4"/><ellipse cx="1848.7" cy="221" rx="5.2" ry="4.4"/><ellipse cx="1836.7" cy="230.6" rx="5.2" ry="4.4"/><ellipse cx="1851.7" cy="240.2" rx="5.2" ry="4.4"/>
<ellipse cx="1846" cy="269" rx="5.2" ry="4.4"/><ellipse cx="1853.3" cy="278.6" rx="5.2" ry="4.4"/><ellipse cx="1854" cy="326.6" rx="5.2" ry="4.4"/><ellipse cx="1838.7" cy="345.8" rx="5.2" ry="4.4"/><ellipse cx="1848.3" cy="403.4" rx="5.2" ry="4.4"/><ellipse cx="1851.3" cy="422.6" rx="5.2" ry="4.4"/><ellipse cx="1857" cy="480.2" rx="5.2" ry="4.4"/>
<ellipse cx="1857" cy="518.6" rx="5.2" ry="4.4"/><ellipse cx="1857" cy="528.2" rx="5.2" ry="4.4"/><ellipse cx="1856.7" cy="537.8" rx="5.2" ry="4.4"/><ellipse cx="1856.7" cy="547.4" rx="5.2" ry="4.4"/><ellipse cx="1857.3" cy="557" rx="5.2" ry="4.4"/><ellipse cx="1858.3" cy="566.6" rx="5.2" ry="4.4"/><ellipse cx="1857.3" cy="576.2" rx="5.2" ry="4.4"/><ellipse cx="1856.7" cy="585.8" rx="5.2" ry="4.4"/>
</g>
<g stroke="#1a1a1a" stroke-width="1.2" fill="#e2302a">
<ellipse cx="1908.3" cy="249.8" rx="5.2" ry="4.4"/><ellipse cx="1871" cy="259.4" rx="5.2" ry="4.4"/><ellipse cx="1875.3" cy="288.2" rx="5.2" ry="4.4"/><ellipse cx="1876.7" cy="297.8" rx="5.2" ry="4.4"/><ellipse cx="1876.3" cy="307.4" rx="5.2" ry="4.4"/><ellipse cx="1867.7" cy="317" rx="5.2" ry="4.4"/><ellipse cx="1870.7" cy="336.2" rx="5.2" ry="4.4"/><ellipse cx="1867.7" cy="355.4" rx="5.2" ry="4.4"/><ellipse cx="1886" cy="365" rx="5.2" ry="4.4"/><ellipse cx="1877.7" cy="374.6" rx="5.2" ry="4.4"/><ellipse cx="1878.7" cy="384.2" rx="5.2" ry="4.4"/><ellipse cx="1870.7" cy="393.8" rx="5.2" ry="4.4"/><ellipse cx="1868" cy="413" rx="5.2" ry="4.4"/><ellipse cx="1878" cy="432.2" rx="5.2" ry="4.4"/><ellipse cx="1866" cy="441.8" rx="5.2" ry="4.4"/><ellipse cx="1869.3" cy="451.4" rx="5.2" ry="4.4"/><ellipse cx="1877.7" cy="461" rx="5.2" ry="4.4"/><ellipse cx="1869" cy="470.6" rx="5.2" ry="4.4"/><ellipse cx="1871.7" cy="489.8" rx="5.2" ry="4.4"/><ellipse cx="1863" cy="499.4" rx="5.2" ry="4.4"/><ellipse cx="1868.3" cy="509" rx="5.2" ry="4.4"/>
<ellipse cx="1861" cy="595.4" rx="5.2" ry="4.4"/><ellipse cx="1860" cy="605" rx="5.2" ry="4.4"/><ellipse cx="1860.3" cy="614.6" rx="5.2" ry="4.4"/><ellipse cx="1860" cy="624.2" rx="5.2" ry="4.4"/><ellipse cx="1859.3" cy="633.8" rx="5.2" ry="4.4"/>
</g>
<rect x="1768" y="72" width="179" height="568" fill="none" stroke="#7a7a7a" stroke-width="1.5"/>
<!-- d labels -->
<g transform="translate(1555,0) scale(0.86,1)" font-size="8.5" font-weight="bold" text-anchor="end">
<text x="0" y="80">Biosynthesis of ansamycins</text><text x="0" y="89.6">Peptidoglycan biosynthesis</text><text x="0" y="99.2">Alanine, aspartate and glutamate metabolism</text><text x="0" y="108.8">One carbon pool by folate</text><text x="0" y="118.4">Streptomycin biosynthesis</text><text x="0" y="128">Pantothenate and CoA biosynthesis</text><text x="0" y="137.6">Lysine biosynthesis</text><text x="0" y="147.2">Carbon fixation in photosynthetic organisms</text><text x="0" y="156.8">Cell cycle − Caulobacter</text><text x="0" y="166.4">Biotin metabolism</text><text x="0" y="176">Phenylalanine, tyrosine and tryptophan biosynthesis</text><text x="0" y="185.6">Drug metabolism − other enzymes</text><text x="0" y="195.2">Amino sugar and nucleotide sugar metabolism</text><text x="0" y="204.8">Other glycan degradation</text><text x="0" y="214.4">RNA polymerase</text><text x="0" y="224">Starch and sucrose metabolism</text><text x="0" y="233.6">Lipopolysaccharide biosynthesis</text><text x="0" y="243.2">Nucleotide excision repair</text><text x="0" y="252.8">Synthesis and degradation of ketone bodies</text><text x="0" y="262.4">Propanoate metabolism</text><text x="0" y="272">Zeatin biosynthesis</text><text x="0" y="281.6">RNA degradation</text><text x="0" y="291.2">Glutathione metabolism</text><text x="0" y="300.8">Valine, leucine and isoleucine degradation</text><text x="0" y="310.4">Fatty acid degradation</text><text x="0" y="320">Chloroalkane and chloroalkene degradation</text><text x="0" y="329.6">Methane metabolism</text><text x="0" y="339.2">Biosynthesis of unsaturated fatty acids</text><text x="0" y="348.8">Glycosaminoglycan degradation</text><text x="0" y="358.4">Tyrosine metabolism</text><text x="0" y="368">Geraniol degradation</text><text x="0" y="377.6">Benzoate degradation</text><text x="0" y="387.2">Fluorobenzoate degradation</text><text x="0" y="396.8">Tryptophan metabolism</text><text x="0" y="406.4">Sphingolipid metabolism</text><text x="0" y="416">Lysine degradation</text><text x="0" y="425.6">Nitrotoluene degradation</text><text x="0" y="435.2">Limonene and pinene degradation</text><text x="0" y="444.8">Dioxin degradation</text><text x="0" y="454.4">Aminobenzoate degradation</text><text x="0" y="464">Caprolactam degradation</text><text x="0" y="473.6">Chlorocyclohexane and chlorobenzene degradation</text><text x="0" y="483.2">Plant−pathogen interaction</text><text x="0" y="492.8">Atrazine degradation</text><text x="0" y="502.4">Xylene degradation</text><text x="0" y="512">Styrene degradation</text><text x="0" y="521.6">Epithelial cell signaling in Helicobacter pylori infection</text><text x="0" y="531.2">NOD−like receptor signaling pathway</text><text x="0" y="540.8">Lysosome</text><text x="0" y="550.4">N−Glycan biosynthesis</text><text x="0" y="560">Protein processing in endoplasmic reticulum</text><text x="0" y="569.6">RNA transport</text><text x="0" y="579.2">Apoptosis</text><text x="0" y="588.8">Protein digestion and absorption</text><text x="0" y="598.4">Penicillin and cephalosporin biosynthesis</text><text x="0" y="608">African trypanosomiasis</text><text x="0" y="617.6">Shigellosis</text><text x="0" y="627.2">Steroid biosynthesis</text><text x="0" y="636.8">Betalain biosynthesis</text>
</g>
<g transform="translate(1951,0) scale(0.8,1)" font-size="8" font-weight="bold">
<text x="0" y="80">0.04977</text><text x="0" y="89.6">0.04994</text><text x="0" y="99.2">0.02825</text><text x="0" y="108.8">0.02134</text><text x="0" y="118.4">0.00943</text><text x="0" y="128">0.04283</text><text x="0" y="137.6">0.03666</text><text x="0" y="147.2">0.00813</text><text x="0" y="156.8">0.01597</text><text x="0" y="166.4">0.01739</text><text x="0" y="176">0.01908</text><text x="0" y="185.6">0.01892</text><text x="0" y="195.2">0.03099</text><text x="0" y="204.8">0.00884</text><text x="0" y="214.4">0.04053</text><text x="0" y="224">0.02217</text><text x="0" y="233.6">0.03373</text><text x="0" y="243.2">0.03975</text><text x="0" y="252.8">0.00676</text><text x="0" y="262.4">0.0277</text><text x="0" y="272">0.00812</text><text x="0" y="281.6">0.03787</text><text x="0" y="291.2">0.01711</text><text x="0" y="300.8">0.02431</text><text x="0" y="310.4">0.02642</text><text x="0" y="320">0.01839</text><text x="0" y="329.6">0.0122</text><text x="0" y="339.2">0.03183</text><text x="0" y="348.8">0.0108</text><text x="0" y="358.4">0.01959</text><text x="0" y="368">0.03724</text><text x="0" y="377.6">0.00949</text><text x="0" y="387.2">0.00915</text><text x="0" y="396.8">0.01987</text><text x="0" y="406.4">0.01792</text><text x="0" y="416">0.02118</text><text x="0" y="425.6">0.02146</text><text x="0" y="435.2">0.00503</text><text x="0" y="444.8">0.01224</text><text x="0" y="454.4">0.01521</text><text x="0" y="464">0.02225</text><text x="0" y="473.6">0.00967</text><text x="0" y="483.2">0.02383</text><text x="0" y="492.8">0.00985</text><text x="0" y="502.4">0.04044</text><text x="0" y="512">0.0225</text><text x="0" y="521.6">0.01146</text><text x="0" y="531.2">0.00281</text><text x="0" y="540.8">0.02102</text><text x="0" y="550.4">0.00048</text><text x="0" y="560">0.00266</text><text x="0" y="569.6">0.03924</text><text x="0" y="579.2">0.02035</text><text x="0" y="588.8">0.00498</text><text x="0" y="598.4">0.03702</text><text x="0" y="608">0.00674</text><text x="0" y="617.6">0.04813</text><text x="0" y="627.2">0.04236</text><text x="0" y="636.8">0.03284</text>
</g>
<text transform="translate(1989,359) rotate(90)" font-size="12" font-weight="bold" text-anchor="middle">p value</text>
<g font-size="8.5" font-weight="bold" text-anchor="middle"><text x="1573" y="653">0</text><text x="1608" y="653">10000</text><text x="1643" y="653">20000</text><text x="1678" y="653">30000</text><text x="1713" y="653">40000</text><text x="1748" y="653">50000</text>
<text x="1793" y="653">−10000</text><text x="1826" y="653">−5000</text><text x="1859" y="653">0</text><text x="1892" y="653">5000</text><text x="1925" y="653">10000</text></g>
<text x="1664" y="666" font-size="12" font-weight="bold" text-anchor="middle">Mean abundance</text>
<text x="1859" y="666" font-size="12" font-weight="bold" text-anchor="middle" textLength="158" lengthAdjust="spacingAndGlyphs">Difference in mean abundance</text>
</svg>
</body></html>
